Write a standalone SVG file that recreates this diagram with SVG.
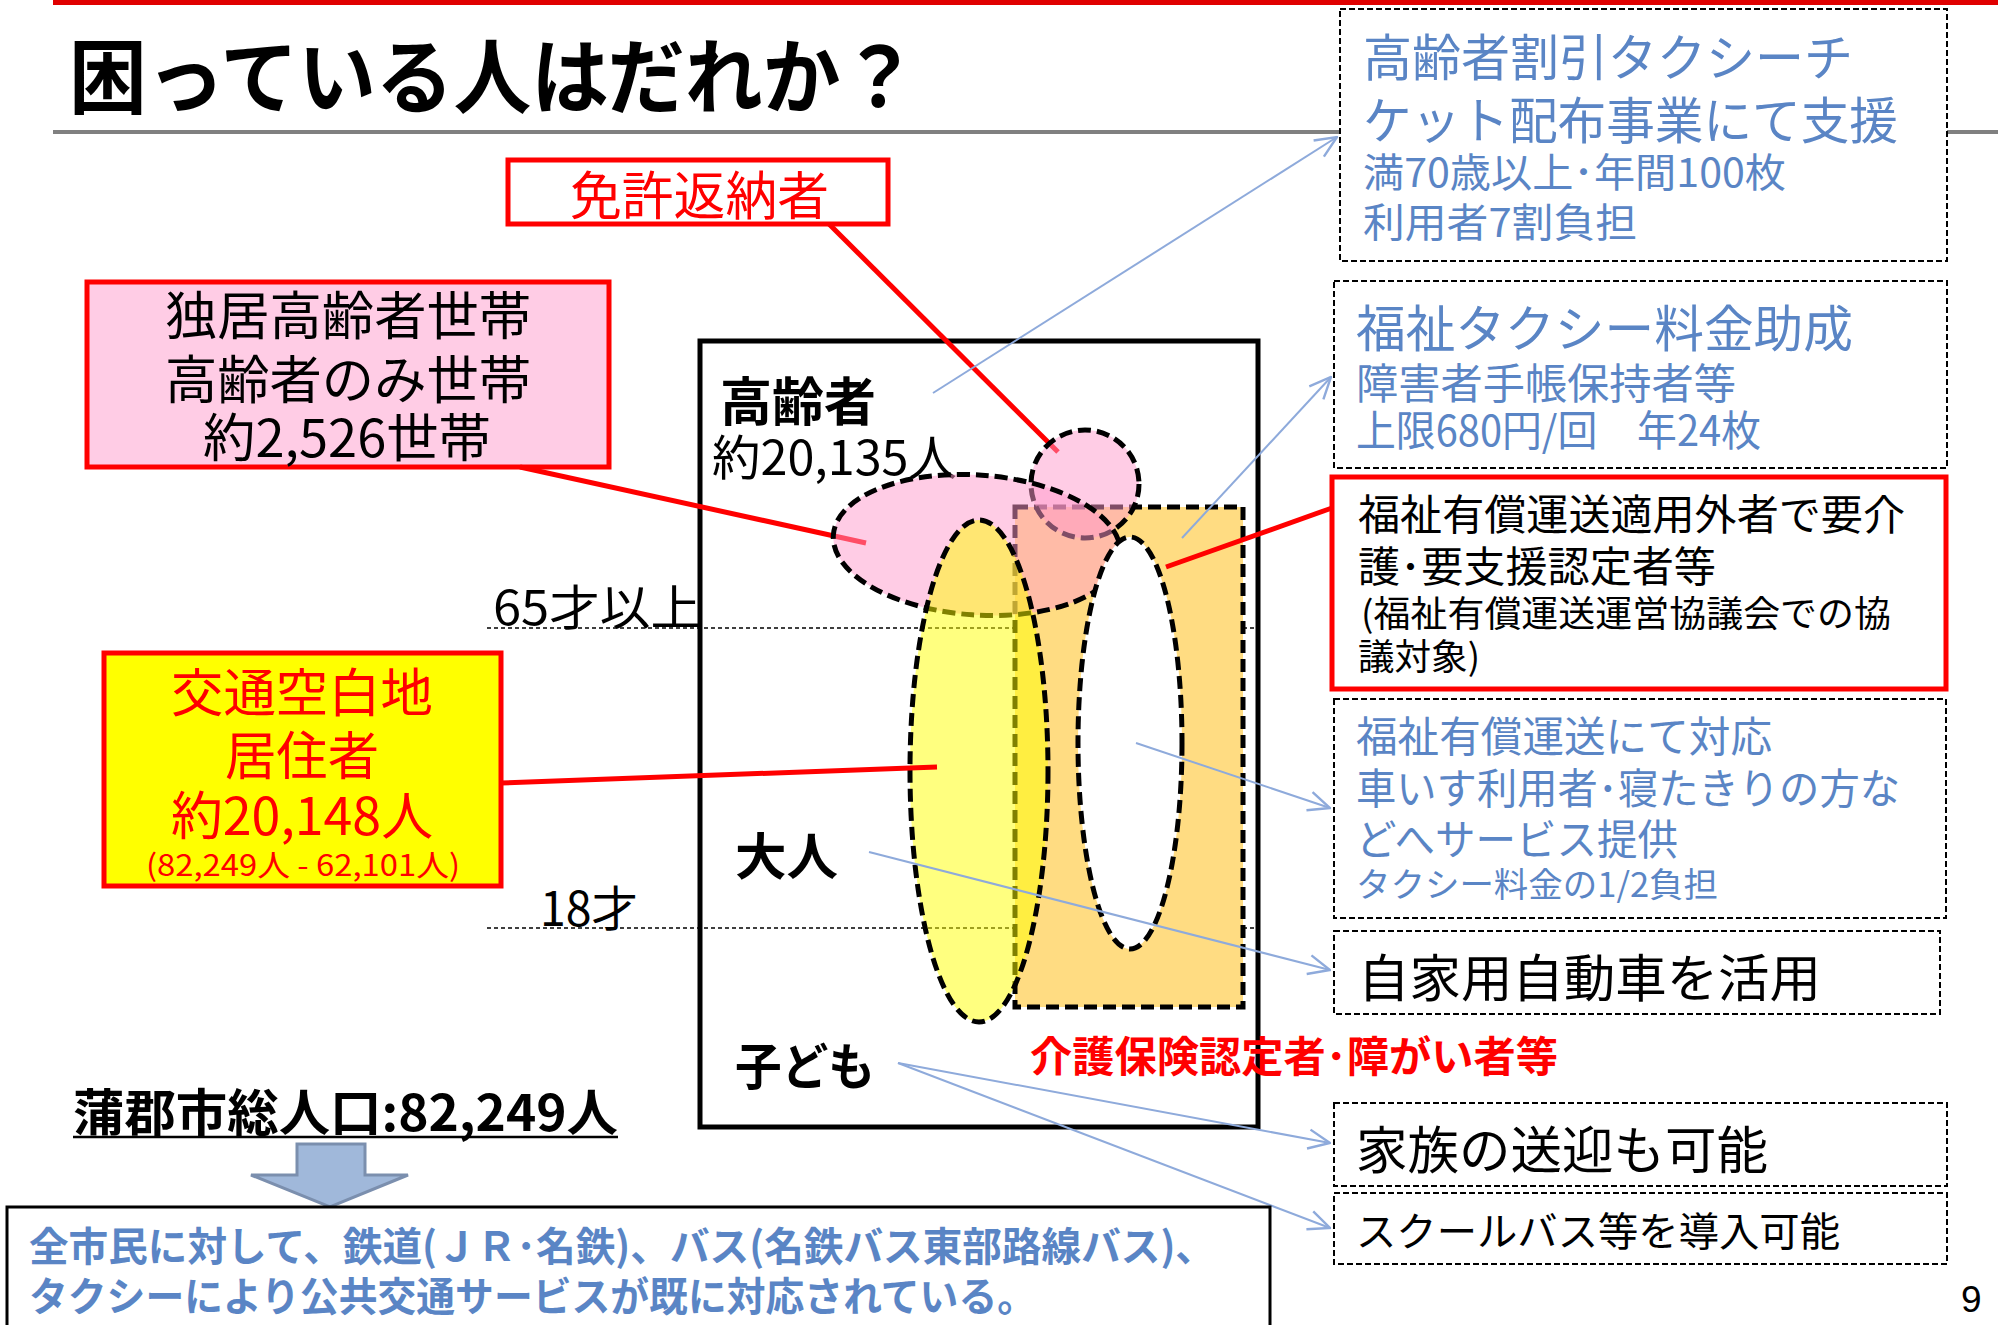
<svg xmlns="http://www.w3.org/2000/svg" width="2005" height="1325" viewBox="0 0 2005 1325">
<style>
text{font-family:"Noto Sans CJK JP","Noto Sans",sans-serif;}
.b{font-weight:bold;}
.blk{fill:#000;}
.red{fill:#FF0000;}
.blu{fill:#5A85C5;}
.dbox{fill:#fff;stroke:#000;stroke-width:2;stroke-dasharray:6 3;}
.rbox{stroke:#FF0000;stroke-width:5;}
.shape{stroke:#000;stroke-width:5;stroke-dasharray:13 6;}
.conn{stroke:#8EAADB;stroke-width:2;fill:none;}
.rl{stroke:#FF0000;stroke-width:5;fill:none;}
.guide{stroke:#000;stroke-width:1.6;stroke-dasharray:4 3;}
</style>
<defs>
<marker id="oa" markerUnits="userSpaceOnUse" markerWidth="24" markerHeight="24" viewBox="0 0 20 20" refX="19" refY="10" orient="auto">
<path d="M1,2 L19,10 L1,18" fill="none" stroke="#8EAADB" stroke-width="2"/>
</marker>
</defs>

<!-- header -->
<rect x="53" y="0" width="1945" height="5" fill="#E00000"/>
<rect x="53" y="130" width="1945" height="4" fill="#808080"/>
<text id="title" class="b blk" x="69" y="107" font-size="82" textLength="849" lengthAdjust="spacingAndGlyphs">困っている人はだれか？</text>

<!-- right boxes -->
<g id="box-koreisha-taxi">
<rect class="dbox" x="1340" y="9" width="607" height="252"/>
<text class="blu" x="1363" y="76" font-size="50" textLength="490" lengthAdjust="spacingAndGlyphs">高齢者割引タクシーチ</text>
<text class="blu" x="1363" y="139" font-size="50" textLength="535" lengthAdjust="spacingAndGlyphs">ケット配布事業にて支援</text>
<text class="blu" x="1363" y="187" font-size="40" textLength="423" lengthAdjust="spacingAndGlyphs">満70歳以上･年間100枚</text>
<text class="blu" x="1363" y="237" font-size="40" textLength="274" lengthAdjust="spacingAndGlyphs">利用者7割負担</text>
</g>
<g id="box-fukushi-taxi">
<rect class="dbox" x="1334" y="281" width="613" height="187"/>
<text class="blu" x="1356" y="347" font-size="50" textLength="497" lengthAdjust="spacingAndGlyphs">福祉タクシー料金助成</text>
<text class="blu" x="1356" y="399" font-size="42" textLength="380" lengthAdjust="spacingAndGlyphs">障害者手帳保持者等</text>
<text class="blu" x="1356" y="446" font-size="42" textLength="405" lengthAdjust="spacingAndGlyphs">上限680円/回　年24枚</text>
</g>
<g id="box-tekiyogai">
<rect class="rbox" x="1332" y="477" width="614" height="212" fill="#fff"/>
<text class="blk" x="1358" y="530" font-size="42" textLength="547" lengthAdjust="spacingAndGlyphs">福祉有償運送適用外者で要介</text>
<text class="blk" x="1358" y="582" font-size="42" textLength="358" lengthAdjust="spacingAndGlyphs">護･要支援認定者等</text>
<text class="blk" x="1361" y="627" font-size="36" textLength="530" lengthAdjust="spacingAndGlyphs">(福祉有償運送運営協議会での協</text>
<text class="blk" x="1358" y="670" font-size="36" textLength="122" lengthAdjust="spacingAndGlyphs">議対象)</text>
</g>
<g id="box-fukushi-yusho">
<rect class="dbox" x="1334" y="699" width="612" height="219"/>
<text class="blu" x="1356" y="752" font-size="42" textLength="416" lengthAdjust="spacingAndGlyphs">福祉有償運送にて対応</text>
<text class="blu" x="1356" y="804" font-size="42" textLength="544" lengthAdjust="spacingAndGlyphs">車いす利用者･寝たきりの方な</text>
<text class="blu" x="1356" y="855" font-size="42" textLength="322" lengthAdjust="spacingAndGlyphs">どへサービス提供</text>
<text class="blu" x="1356" y="897" font-size="34" textLength="362" lengthAdjust="spacingAndGlyphs">タクシー料金の1/2負担</text>
</g>
<g id="box-jikayo">
<rect class="dbox" x="1334" y="931" width="606" height="83"/>
<text class="blk" x="1358" y="997" font-size="51" textLength="463" lengthAdjust="spacingAndGlyphs">自家用自動車を活用</text>
</g>
<g id="box-kazoku">
<rect class="dbox" x="1334" y="1103" width="613" height="83"/>
<text class="blk" x="1356" y="1169" font-size="51" textLength="412" lengthAdjust="spacingAndGlyphs">家族の送迎も可能</text>
</g>
<g id="box-school">
<rect class="dbox" x="1334" y="1193" width="613" height="71"/>
<text class="blk" x="1356" y="1246" font-size="40" textLength="484" lengthAdjust="spacingAndGlyphs">スクールバス等を導入可能</text>
</g>
<text id="page" x="1961" y="1312" font-size="37" style="font-family:'Liberation Sans',sans-serif" fill="#000">9</text>

<!-- left labels -->
<g id="box-menkyo">
<rect class="rbox" x="508" y="160" width="380" height="64" fill="#fff" stroke-width="4"/>
<text class="red" x="570" y="215" font-size="52" textLength="259" lengthAdjust="spacingAndGlyphs">免許返納者</text>
</g>
<g id="box-dokkyo">
<rect class="rbox" x="87" y="282" width="522" height="185" fill="#FFCCE5"/>
<text class="blk" x="165" y="335" font-size="52" textLength="366" lengthAdjust="spacingAndGlyphs">独居高齢者世帯</text>
<text class="blk" x="165" y="399" font-size="52" textLength="366" lengthAdjust="spacingAndGlyphs">高齢者のみ世帯</text>
<text class="blk" x="203" y="457" font-size="52" textLength="288" lengthAdjust="spacingAndGlyphs">約2,526世帯</text>
</g>
<g id="box-kotsu">
<rect class="rbox" x="104" y="653" width="397" height="233" fill="#FFFF00"/>
<text class="red" x="171" y="712" font-size="52" textLength="262" lengthAdjust="spacingAndGlyphs">交通空白地</text>
<text class="red" x="225" y="775" font-size="52" textLength="154" lengthAdjust="spacingAndGlyphs">居住者</text>
<text class="red" x="171" y="835" font-size="52" textLength="262" lengthAdjust="spacingAndGlyphs">約20,148人</text>
<text class="red" x="146" y="876" font-size="30" textLength="314" lengthAdjust="spacingAndGlyphs">(82,249人 - 62,101人)</text>
</g>

<!-- population frame -->
<g id="frame">
<rect x="700" y="341" width="558" height="786" fill="#fff" stroke="#000" stroke-width="5"/>
<line class="guide" x1="487" y1="628" x2="1255" y2="628"/>
<line class="guide" x1="487" y1="928" x2="1255" y2="928"/>
<text class="blk" x="493" y="625" font-size="48" textLength="208" lengthAdjust="spacingAndGlyphs">65才以上</text>
<text class="blk" x="540" y="926" font-size="48" textLength="98" lengthAdjust="spacingAndGlyphs">18才</text>
<text class="b blk" x="720" y="421" font-size="52" textLength="156" lengthAdjust="spacingAndGlyphs">高齢者</text>
<text class="blk" x="712" y="475" font-size="48" textLength="245" lengthAdjust="spacingAndGlyphs">約20,135人</text>
<text class="b blk" x="735" y="875" font-size="50" textLength="103" lengthAdjust="spacingAndGlyphs">大人</text>
<text class="b blk" x="735" y="1085" font-size="50" textLength="140" lengthAdjust="spacingAndGlyphs">子ども</text>
</g>

<!-- connectors under shapes -->
<g id="connectors-under">
<line class="rl" x1="829" y1="224" x2="1058" y2="452"/>
<line class="rl" x1="520" y1="467" x2="866" y2="543"/>
</g>

<g id="shape-kaigo-rect">
<rect class="shape" x="1015" y="507" width="228" height="500" fill="#FFDC82"/>
</g>
<g id="shape-menkyo-circle">
<circle class="shape" cx="1085" cy="484" r="54" fill="#FF99CC" fill-opacity="0.5"/>
</g>
<g id="shape-dokkyo-ellipse">
<ellipse class="shape" cx="977" cy="545" rx="144" ry="70" fill="#FF99CC" fill-opacity="0.5" transform="rotate(4 977 545)"/>
</g>
<g id="shape-kotsu-ellipse">
<ellipse class="shape" cx="979" cy="771" rx="69" ry="251" fill="#FFFF00" fill-opacity="0.5"/>
</g>
<g id="shape-white-ellipse">
<ellipse class="shape" cx="1130" cy="743" rx="52" ry="206" fill="#fff"/>
</g>

<text id="kaigo-label" class="b red" x="1030" y="1072" font-size="42" textLength="528" lengthAdjust="spacingAndGlyphs">介護保険認定者･障がい者等</text>

<g id="connectors">
<line class="rl" x1="501" y1="783" x2="937" y2="767"/>
<line class="rl" x1="1332" y1="508" x2="1166" y2="567"/>
<line class="conn" x1="933" y1="393" x2="1337" y2="137" marker-end="url(#oa)"/>
<line class="conn" x1="1182" y1="538" x2="1331" y2="377" marker-end="url(#oa)"/>
<line class="conn" x1="1136" y1="743" x2="1330" y2="808" marker-end="url(#oa)"/>
<line class="conn" x1="869" y1="852" x2="1330" y2="970" marker-end="url(#oa)"/>
<line class="conn" x1="898" y1="1063" x2="1330" y2="1143" marker-end="url(#oa)"/>
<line class="conn" x1="898" y1="1063" x2="1330" y2="1228" marker-end="url(#oa)"/>
</g>

<!-- bottom -->
<g id="total">
<text class="b blk" x="73" y="1131" font-size="50" textLength="545" lengthAdjust="spacingAndGlyphs">蒲郡市総人口:82,249人</text>
<line x1="73" y1="1137" x2="618" y2="1137" stroke="#000" stroke-width="2.5"/>
</g>
<g id="down-arrow">
<polygon points="297,1144 365,1144 365,1175 408,1175 330,1207 251,1175 297,1175" fill="#A0B8DA" stroke="#7B8FAE" stroke-width="3"/>
</g>
<g id="box-public">
<rect x="7" y="1207" width="1263" height="140" fill="#fff" stroke="#000" stroke-width="3"/>
<text class="b blu" x="29" y="1261" font-size="40" textLength="1186" lengthAdjust="spacingAndGlyphs">全市民に対して、鉄道(ＪＲ･名鉄)、バス(名鉄バス東部路線バス)、</text>
<text class="b blu" x="29" y="1311" font-size="40" textLength="1007" lengthAdjust="spacingAndGlyphs">タクシーにより公共交通サービスが既に対応されている。</text>
</g>
</svg>
